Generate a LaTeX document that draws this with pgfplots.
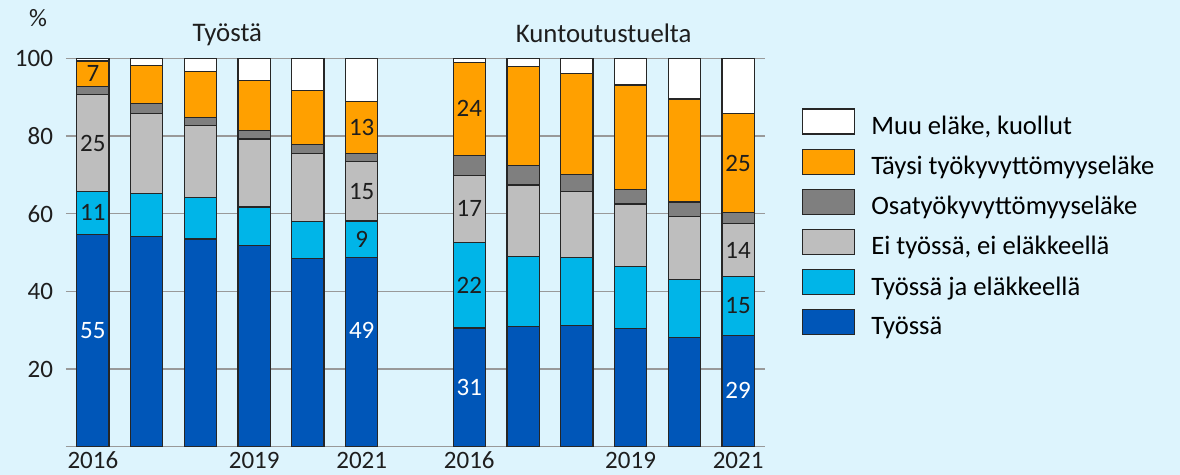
\documentclass[border=0pt]{standalone}
\usepackage{fontspec}
\setmainfont{Carlito}
\usepackage{pgfplots}
\usepackage{pgfplotstable}
\pgfplotsset{compat=1.18}

\definecolor{bgc}{HTML}{DDF4FD}
\definecolor{tyo}{HTML}{0056B8}
\definecolor{tjael}{HTML}{00B5E8}
\definecolor{eityo}{HTML}{BEBEBE}
\definecolor{osa}{HTML}{7F7F7F}
\definecolor{taysi}{HTML}{FFA000}
\definecolor{txt}{HTML}{1E1E1E}

% x: 0-5 = Tyosta 2016-2021, 7-12 = Kuntoutustuelta 2016-2021
\pgfplotstableread{
x  tyo  tjael eityo osa taysi muu
0  54.6 11.2  24.8  2.1 6.6   0.7
1  54.2 11.1  20.5  2.5 9.9   1.8
2  53.5 10.6  18.5  2.2 11.8  3.4
3  51.8 9.9   17.5  2.3 12.8  5.7
4  48.5 9.4   17.5  2.5 13.8  8.3
5  48.8 9.3   15.3  2.1 13.4  11.1
7  30.6 22.0  17.3  5.0 24.0  1.1
8  30.9 18.1  18.4  5.1 25.3  2.2
9  31.2 17.6  16.9  4.4 25.9  4.0
10 30.4 16.1  16.0  3.7 26.9  6.9
11 28.2 14.8  16.3  3.7 26.5  10.5
12 28.7 15.1  13.6  3.0 25.3  14.3
}\osuudet

\newcommand\lbl{\fontsize{12.5}{14}\selectfont}
\pgfplotsset{samebox/.style={
    at={(33pt,14.1pt)}, anchor=south west,
    scale only axis, width=349.5pt, height=194.25pt,
    xmin=-0.5, xmax=12.5, ymin=0, ymax=100, clip=false}}

\begin{document}
\begin{tikzpicture}
\path[use as bounding box, fill=bgc] (0pt,0pt) rectangle (590pt,237.5pt);
\begin{axis}[
    samebox,
    ybar stacked, bar width=0.6,
    axis line style={draw=none},
    major tick length=0pt,
    ytick={20,40,60,80,100},
    ymajorgrids, grid style={color=black!40, line width=0.7pt},
    xtick={0,3,5,7,10,12},
    xticklabels={2016,2019,2021,2016,2019,2021},
    /pgf/number format/assume math mode=true,
    tick label style={font=\lbl, text=txt},
    yticklabel style={xshift=-3pt},
    xticklabel style={yshift=1pt},
    reverse legend,
    legend cell align=left,
    legend image code/.code={\draw[#1] (0pt,-3.6pt) rectangle (26pt,8.9pt);},
    legend style={draw=none, fill=none, at={(1.0525,0.872)}, anchor=north west,
        inner sep=0pt, row sep=3.5pt,
        font=\fontsize{13.3}{15}\selectfont,
        /tikz/every odd column/.append style={column sep=6pt}},
]
\addplot[fill=tyo, draw=black!85, line width=0.6pt] table[x=x, y=tyo] {\osuudet};
\addlegendentry{Työssä}
\addplot[fill=tjael, draw=black!85, line width=0.6pt] table[x=x, y=tjael] {\osuudet};
\addlegendentry{Työssä ja eläkkeellä}
\addplot[fill=eityo, draw=black!85, line width=0.6pt] table[x=x, y=eityo] {\osuudet};
\addlegendentry{Ei työssä, ei eläkkeellä}
\addplot[fill=osa, draw=black!85, line width=0.6pt] table[x=x, y=osa] {\osuudet};
\addlegendentry{Osatyökyvyttömyyseläke}
\addplot[fill=taysi, draw=black!85, line width=0.6pt] table[x=x, y=taysi] {\osuudet};
\addlegendentry{Täysi työkyvyttömyyseläke}
\addplot[fill=white, draw=black!85, line width=0.6pt] table[x=x, y=muu] {\osuudet};
\addlegendentry{Muu eläke, kuollut}

% bottom line
\draw[black!40, line width=0.7pt] (rel axis cs:0,0) -- (rel axis cs:1,0);

% titles
\node[font=\fontsize{13.4}{15}\selectfont, text=txt] at (axis cs:2.5,106) {Työstä};
\node[font=\fontsize{13.4}{15}\selectfont, text=txt] at (axis cs:9.5,106.5) {Kuntoutustuelta};
\node[font=\lbl, text=txt] at (axis cs:-1.02,110.4) {\%};
\end{axis}

% data labels, in a second axis over the bars
\begin{axis}[samebox, hide axis]
\node[font=\lbl, text=white] at (axis cs:0,30) {55};
\node[font=\lbl, text=txt] at (axis cs:0,60.2) {11};
\node[font=\lbl, text=txt] at (axis cs:0,78.2) {25};
\node[font=\lbl, text=txt] at (axis cs:0,96.0) {7};
\node[font=\lbl, text=white] at (axis cs:5,30) {49};
\node[font=\lbl, text=txt] at (axis cs:5,53.5) {9};
\node[font=\lbl, text=txt] at (axis cs:5,65.8) {15};
\node[font=\lbl, text=txt] at (axis cs:5,82.2) {13};
\node[font=\lbl, text=white] at (axis cs:7,15.3) {31};
\node[font=\lbl, text=txt] at (axis cs:7,41.6) {22};
\node[font=\lbl, text=txt] at (axis cs:7,61.3) {17};
\node[font=\lbl, text=txt] at (axis cs:7,87.0) {24};
\node[font=\lbl, text=white] at (axis cs:12,14.6) {29};
\node[font=\lbl, text=txt] at (axis cs:12,36.3) {15};
\node[font=\lbl, text=txt] at (axis cs:12,50.6) {14};
\node[font=\lbl, text=txt] at (axis cs:12,73.0) {25};
\end{axis}
\end{tikzpicture}
\end{document}
